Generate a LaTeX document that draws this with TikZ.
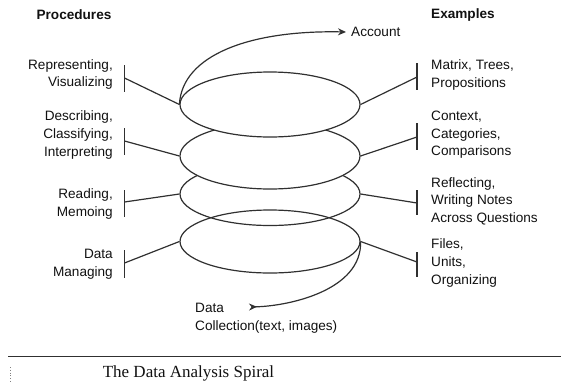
\documentclass[tikz,border=0pt]{standalone}
\usepackage{fontspec}
\setmainfont{Liberation Sans}
\newfontfamily\capfont{Liberation Serif}
\usetikzlibrary{arrows.meta,shapes.geometric}
\definecolor{ink}{HTML}{303030}
\definecolor{txt}{HTML}{111111}
\begin{document}
\begin{tikzpicture}[x=1pt,y=-1pt,
  lab/.style={text=txt,font=\fontsize{13.6}{17.6}\selectfont,inner sep=0pt},
  labl/.style={lab,anchor=east,align=right},
  labr/.style={lab,anchor=west,align=left},
  head/.style={lab,font=\fontsize{13.6}{17.6}\selectfont\bfseries},
  loop/.style={ellipse,draw=ink,line width=1.2pt,minimum width=180pt,inner sep=0pt},
  ln/.style={draw=ink,line width=1.2pt},
  brk/.style={draw=ink,line width=1.2pt}]
\useasboundingbox (0,0) rectangle (561,388);
% headings
\node[head] (proc) at (74,15) {Procedures};
\node[head,anchor=west] (ex) at (431,15) {Examples};
% spiral loops (lower loops' tops hidden behind upper ones)
\node[loop,minimum height=63pt] (e3) at (270,194) {};
\node[loop,minimum height=63pt] (e4) at (270,241.5) {};
\node[loop,minimum height=66pt,fill=white] (e2) at (270,156) {};
\node[loop,minimum height=65pt,fill=white] (e1) at (270,104.5) {};
% account
\node[lab,anchor=west] (acc) at (351,32) {Account};
\draw[ln,-{Stealth[length=8pt,width=7pt]}] (e1.west) .. controls (182,55) and (250,30) .. ([xshift=-5pt]acc.west);
% data collection
\node[labr,anchor=north west] (data) at (195,303) {Data\\Collection(text, images)};
\coordinate (tail) at (249,307);
\draw[ln,{Stealth[reversed,length=8pt,width=7pt]}-] (tail) .. controls (290,306) and (362,290) .. (e4.east);
% left labels
\node[labl] (l1) at (113,74.5) {Representing,\\Visualizing};
\node[labl] (l2) at (113,135) {Describing,\\Classifying,\\Interpreting};
\node[labl] (l3) at (113,204) {Reading,\\Memoing};
\node[labl] (l4) at (113,264) {Data\\Managing};
\coordinate (bl1) at (124.5,78);
\coordinate (bl2) at (124.5,141);
\coordinate (bl3) at (124.5,202);
\coordinate (bl4) at (124.5,263);
\draw[brk] (124.5,65) -- (124.5,92);
\draw[brk] (124.5,128) -- (124.5,155);
\draw[brk] (124.5,190) -- (124.5,217);
\draw[brk] (124.5,250) -- (124.5,278);
\draw[ln] (bl1) -- (e1.west);
\draw[ln] (bl2) -- (e2.west);
\draw[ln] (bl3) -- (e3.west);
\draw[ln] (bl4) -- (e4.west);
% right labels
\node[labr] (r1) at (431,75) {Matrix, Trees,\\Propositions};
\node[labr] (r2) at (431,135) {Context,\\Categories,\\Comparisons};
\node[labr] (r3) at (431,201) {Reflecting,\\Writing Notes\\Across Questions};
\node[labr] (r4) at (431,263) {Files,\\Units,\\Organizing};
\coordinate (br1) at (417,77);
\coordinate (br2) at (417,137);
\coordinate (br3) at (417,203);
\coordinate (br4) at (417,262);
\draw[brk] (417,63) -- (417,90);
\draw[brk] (417,123) -- (417,150);
\draw[brk] (417,190) -- (417,215);
\draw[brk] (417,252) -- (417,277);
\draw[ln] (e1.east) -- (br1);
\draw[ln] (e2.east) -- (br2);
\draw[ln] (e3.east) -- (br3);
\draw[ln] (e4.east) -- (br4);
% caption
\draw[draw=ink,line width=1pt] (8,356) -- (561,356);
\draw[draw=gray,line width=0.8pt,dotted] (10,367) -- (10,383);
\node[text=txt,font=\capfont\fontsize{17}{20}\selectfont,inner sep=0pt] (cap) at (188.5,373) {The Data Analysis Spiral};
\end{tikzpicture}
\end{document}
